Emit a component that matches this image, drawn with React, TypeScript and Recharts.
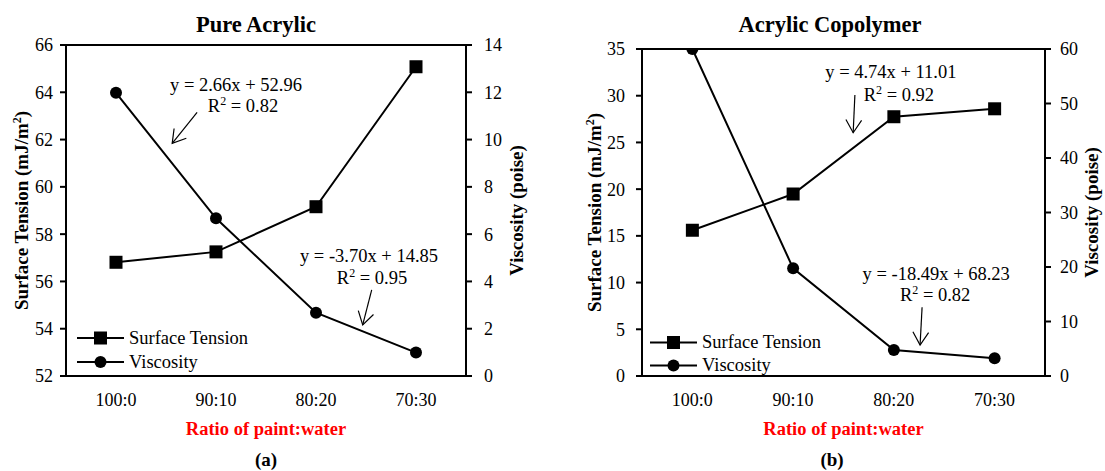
import React from 'react';
import { LineChart, Line, XAxis, YAxis, ReferenceLine, ReferenceDot, Legend } from 'recharts';

const FONT = '"Liberation Serif", "Times New Roman", serif';

const categories = ['100:0', '90:10', '80:20', '70:30'];
const categoryIndex = [0, 1, 2, 3];

const pureSurfaceTension = [56.81, 57.25, 59.16, 65.08];
const pureViscosity = [11.98, 6.67, 2.68, 0.99];
const copoSurfaceTension = [15.6, 19.48, 27.75, 28.6];
const copoViscosity = [60, 19.76, 4.77, 3.25];

const pureLeftTicks = [52, 54, 56, 58, 60, 62, 64, 66];
const pureRightTicks = [0, 2, 4, 6, 8, 10, 12, 14];
const copoLeftTicks = [0, 5, 10, 15, 20, 25, 30, 35];
const copoRightTicks = [0, 10, 20, 30, 40, 50, 60];

// trendline annotations, anchored in data coordinates (x = category index, y = left-axis value)
const pureAnnotations = [
  { eq: 'y = 2.66x + 52.96', r2: '0.82', eqX: 1.2, eqY: 64.31, r2X: 1.27, r2Y: 63.42, fromX: 0.811, fromY: 63.15, toX: 0.562, toY: 61.84 },
  { eq: 'y = -3.70x + 14.85', r2: '0.95', eqX: 2.53, eqY: 57.09, r2X: 2.56, r2Y: 56.16, fromX: 2.557, fromY: 55.64, toX: 2.467, toY: 54.16 },
];
const copoAnnotations = [
  { eq: 'y = 4.74x + 11.01', r2: '0.92', eqX: 1.97, eqY: 32.57, r2X: 2.05, r2Y: 30.15, fromX: 1.613, fromY: 30.08, toX: 1.596, toY: 26.04 },
  { eq: 'y = -18.49x + 68.23', r2: '0.82', eqX: 2.42, eqY: 11.0, r2X: 2.41, r2Y: 8.67, fromX: 2.28, fromY: 7.35, toX: 2.26, toY: 3.32 },
];

const buildData = (st: number[], visc: number[]) =>
  categoryIndex.map((i) => ({ i, cat: categories[i], st: st[i], visc: visc[i] }));

const SquareDot = (props: any) => {
  const { cx, cy, index } = props;
  if (cx == null || cy == null) return null;
  return <rect key={`sq-${index}`} x={cx - 6.5} y={cy - 6.5} width={13} height={13} fill="#000" />;
};
const CircleDot = (props: any) => {
  const { cx, cy, index } = props;
  if (cx == null || cy == null) return null;
  return <circle key={`ci-${index}`} cx={cx} cy={cy} r={6} fill="#000" />;
};

const Arrow = (props: any) => {
  const { x1, y1, x2, y2 } = props;
  const ang = Math.atan2(y2 - y1, x2 - x1);
  const L = 15;
  const s = 0.55;
  const a1 = ang + Math.PI - s;
  const a2 = ang + Math.PI + s;
  return (
    <g>
      <line x1={x1} y1={y1} x2={x2} y2={y2} stroke="#000" strokeWidth={1.2} />
      <polyline
        points={`${x2 + L * Math.cos(a1)},${y2 + L * Math.sin(a1)} ${x2},${y2} ${x2 + L * Math.cos(a2)},${y2 + L * Math.sin(a2)}`}
        fill="none"
        stroke="#000"
        strokeWidth={1.2}
      />
    </g>
  );
};

const textContent = (kind: 'eq' | 'r2', value: string) => (props: any) => {
  const vb = props.viewBox || {};
  const cx = (vb.x ?? 0) + (vb.width ?? 0) / 2;
  const cy = (vb.y ?? 0) + (vb.height ?? 0) / 2;
  return (
    <text x={cx} y={cy} dy="0.35em" textAnchor="middle" fontFamily={FONT} fontSize={18.5} fill="#000">
      {kind === 'eq' ? (
        value
      ) : (
        <>
          <tspan>R</tspan>
          <tspan dy={-7} fontSize={12}>2</tspan>
          <tspan dy={7}>{` = ${value}`}</tspan>
        </>
      )}
    </text>
  );
};

const yLabel = (text: React.ReactNode, dx: number) => (props: any) => {
  const vb = props.viewBox || {};
  const x = (vb.x ?? 0) + dx;
  const y = (vb.y ?? 0) + (vb.height ?? 0) / 2;
  return (
    <text
      x={x}
      y={y}
      dy="0.35em"
      textAnchor="middle"
      transform={`rotate(-90, ${x}, ${y})`}
      fontFamily={FONT}
      fontWeight="bold"
      fontSize={19}
      fill="#000"
    >
      {text}
    </text>
  );
};

const stLabelText = (
  <>
    <tspan>Surface Tension (mJ/m</tspan>
    <tspan dy={-7} fontSize={12}>2</tspan>
    <tspan dy={7}>)</tspan>
  </>
);

const xLabel = (props: any) => {
  const vb = props.viewBox || {};
  const x = (vb.x ?? 0) + (vb.width ?? 0) / 2;
  const y = (vb.y ?? 0) + 53;
  return (
    <text x={x} y={y} dy="0.35em" textAnchor="middle" fontFamily={FONT} fontWeight="bold" fontSize={18.5} fill="#ff0000">
      Ratio of paint:water
    </text>
  );
};

type PanelProps = {
  width: number;
  top: number;
  leftW: number;
  rightW: number;
  leftLabelDx: number;
  rightLabelDx: number;
  st: number[];
  visc: number[];
  leftTicks: number[];
  rightTicks: number[];
  leftTickMargin: number;
  rightTickMargin: number;
  annotations: typeof pureAnnotations;
  legendLeft: number;
  legendTop: number;
  legendRow: number;
};

const Panel = (p: PanelProps) => {
  const data = buildData(p.st, p.visc);
  const lMin = p.leftTicks[0];
  const lMax = p.leftTicks[p.leftTicks.length - 1];
  const rMin = p.rightTicks[0];
  const rMax = p.rightTicks[p.rightTicks.length - 1];
  const legendContent = () => (
    <div style={{ fontFamily: FONT, fontSize: 18.5, color: '#000' }}>
      {[
        { name: 'Surface Tension', sq: true },
        { name: 'Viscosity', sq: false },
      ].map((s) => (
        <div key={s.name} style={{ display: 'flex', alignItems: 'center', height: p.legendRow, whiteSpace: 'nowrap' }}>
          <svg width={52} height={p.legendRow} style={{ display: 'block' }}>
            <line x1={0} x2={47} y1={p.legendRow / 2} y2={p.legendRow / 2} stroke="#000" strokeWidth={2} />
            {s.sq ? (
              <rect x={23.5 - 6.5} y={p.legendRow / 2 - 6.5} width={13} height={13} fill="#000" />
            ) : (
              <circle cx={23.5} cy={p.legendRow / 2} r={6} fill="#000" />
            )}
          </svg>
          <span style={{ lineHeight: `${p.legendRow}px` }}>{s.name}</span>
        </div>
      ))}
    </div>
  );
  return (
    <LineChart width={p.width} height={471} data={data} margin={{ top: p.top, right: 0, bottom: 65, left: 0 }}>
      <XAxis
        dataKey="i"
        type="number"
        domain={[-0.5, 3.5]}
        ticks={categoryIndex}
        tickFormatter={(v: number) => categories[v]}
        tickLine={false}
        tickSize={0}
        tickMargin={17}
        height={30}
        axisLine={{ stroke: '#000', strokeWidth: 2 }}
        tick={{ fill: '#000', fontSize: 18, fontFamily: FONT }}
        label={{ content: xLabel }}
        allowDataOverflow
      />
      <YAxis
        yAxisId="left"
        orientation="left"
        width={p.leftW}
        domain={[lMin, lMax]}
        ticks={p.leftTicks}
        interval={0}
        allowDataOverflow
        tickSize={6}
        tickMargin={p.leftTickMargin}
        axisLine={{ stroke: '#000', strokeWidth: 2 }}
        tickLine={{ stroke: '#000', strokeWidth: 2 }}
        tick={{ fill: '#000', fontSize: 18, fontFamily: FONT }}
        label={{ content: yLabel(stLabelText, p.leftLabelDx) }}
      />
      <YAxis
        yAxisId="right"
        orientation="right"
        width={p.rightW}
        domain={[rMin, rMax]}
        ticks={p.rightTicks}
        interval={0}
        allowDataOverflow
        tickSize={6}
        tickMargin={p.rightTickMargin}
        axisLine={{ stroke: '#000', strokeWidth: 2 }}
        tickLine={{ stroke: '#000', strokeWidth: 2 }}
        tick={{ fill: '#000', fontSize: 18, fontFamily: FONT, textAnchor: 'start' }}
        label={{ content: yLabel('Viscosity (poise)', p.rightLabelDx) }}
      />
      <ReferenceLine yAxisId="left" y={lMax} stroke="#000" strokeWidth={2} ifOverflow="visible" />
      <Line
        yAxisId="left"
        dataKey="st"
        name="Surface Tension"
        stroke="#000"
        strokeWidth={2}
        dot={SquareDot}
        activeDot={false}
        isAnimationActive={false}
      />
      <Line
        yAxisId="right"
        dataKey="visc"
        name="Viscosity"
        stroke="#000"
        strokeWidth={2}
        dot={CircleDot}
        activeDot={false}
        isAnimationActive={false}
      />
      {p.annotations.map((a, k) => (
        <ReferenceLine
          key={`arr-${k}`}
          yAxisId="left"
          segment={[
            { x: a.fromX, y: a.fromY },
            { x: a.toX, y: a.toY },
          ]}
          shape={Arrow}
          ifOverflow="visible"
        />
      ))}
      {p.annotations.map((a, k) => (
        <ReferenceDot
          key={`eq-${k}`}
          yAxisId="left"
          x={a.eqX}
          y={a.eqY}
          r={0}
          fill="none"
          stroke="none"
          ifOverflow="visible"
          label={{ content: textContent('eq', a.eq) }}
        />
      ))}
      {p.annotations.map((a, k) => (
        <ReferenceDot
          key={`r2-${k}`}
          yAxisId="left"
          x={a.r2X}
          y={a.r2Y}
          r={0}
          fill="none"
          stroke="none"
          ifOverflow="visible"
          label={{ content: textContent('r2', a.r2) }}
        />
      ))}
      <Legend
        layout="vertical"
        align="center"
        verticalAlign="middle"
        content={legendContent}
        wrapperStyle={{ left: p.legendLeft, top: p.legendTop, width: 'auto', bottom: 'auto', right: 'auto', margin: 0 }}
      />
    </LineChart>
  );
};

const divText = (text: string, cx: number, cy: number, size: number, color = '#000') => (
  <div
    style={{
      position: 'absolute',
      left: cx - 150,
      top: cy - 15,
      width: 300,
      height: 30,
      lineHeight: '30px',
      textAlign: 'center',
      fontFamily: FONT,
      fontWeight: 'bold',
      fontSize: size,
      color,
    }}
  >
    {text}
  </div>
);

export default function App() {
  return (
    <div
      style={{
        position: 'absolute',
        left: 0,
        top: 0,
        width: 1105,
        height: 471,
        background: '#fff',
        overflow: 'hidden',
        fontFamily: FONT,
      }}
    >
      <div style={{ position: 'absolute', left: 0, top: 0 }}>
        <Panel
          width={552}
          top={45}
          leftW={66}
          rightW={86}
          leftLabelDx={21}
          rightLabelDx={50}
          st={pureSurfaceTension}
          visc={pureViscosity}
          leftTicks={pureLeftTicks}
          rightTicks={pureRightTicks}
          leftTickMargin={7}
          rightTickMargin={12}
          annotations={pureAnnotations}
          legendLeft={77}
          legendTop={326}
          legendRow={24}
        />
      </div>
      <div style={{ position: 'absolute', left: 552, top: 0 }}>
        <Panel
          width={553}
          top={49}
          leftW={90}
          rightW={60}
          leftLabelDx={42}
          rightLabelDx={46}
          st={copoSurfaceTension}
          visc={copoViscosity}
          leftTicks={copoLeftTicks}
          rightTicks={copoRightTicks}
          leftTickMargin={11}
          rightTickMargin={9}
          annotations={copoAnnotations}
          legendLeft={98}
          legendTop={331}
          legendRow={23}
        />
      </div>
      {divText('Pure Acrylic', 256, 25, 22.5)}
      {divText('Acrylic Copolymer', 830, 25, 22.5)}
      {divText('(a)', 266, 460, 19)}
      {divText('(b)', 832, 460, 19)}
    </div>
  );
}
